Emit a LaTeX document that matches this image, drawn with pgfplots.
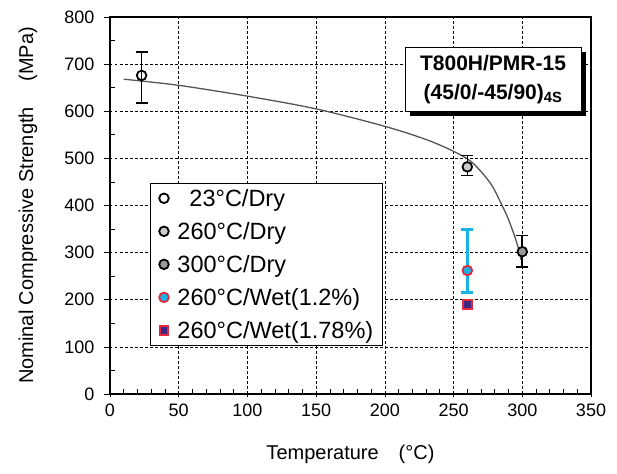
\documentclass[border=0pt]{standalone}
\usepackage{pgfplots}
\pgfplotsset{compat=1.18}
\usepackage{fontspec}
\setmainfont{Liberation Sans}
\usetikzlibrary{shadows}
\definecolor{wetcyan}{RGB}{20,180,230}
\definecolor{wetred}{RGB}{230,40,60}
\definecolor{wetblue}{RGB}{60,40,130}
\definecolor{curvegray}{RGB}{85,85,85}
\begin{document}
\begin{tikzpicture}
\begin{axis}[
  scale only axis,
  width=481pt, height=377pt,
  xmin=0, xmax=350, ymin=0, ymax=800,
  xtick={0,50,...,350}, ytick={0,100,...,800},
  minor x tick num=4, minor y tick num=1,
  xtick pos=bottom, ytick pos=left,
  tick align=inside,
  major tick length=6pt, minor tick length=5pt,
  every tick/.style={black, line width=0.7pt},
  every major y tick/.style={xshift=-6pt},
  every major x tick/.style={yshift=-3pt},
  grid=major,
  major grid style={black, line width=0.6pt, dash pattern=on 2.5pt off 2.5pt},
  axis line style={black, line width=1.5pt},
  tick label style={font=\fontsize{18}{20}\selectfont},
  yticklabel style={xshift=-12pt},
  xticklabel style={yshift=-6pt},
  /pgf/number format/assume math mode=true,
  xlabel={Temperature\quad(°C)},
  ylabel={Nominal Compressive Strength\quad\ (MPa)},
  every axis x label/.style={at={(axis description cs:0.5,-0.159)}, anchor=center, font=\fontsize{20}{22}\selectfont},
  every axis y label/.style={at={(axis description cs:-0.1705,0.5)}, anchor=center, rotate=90, font=\fontsize{20}{22}\selectfont},
  legend cell align=left,
  legend style={at={(axis cs:29.1,447.7)}, anchor=north west, draw=black, line width=1pt,
    font=\fontsize{23.5}{25}\selectfont, row sep=10.5pt, inner xsep=7pt, inner ysep=3.5pt,
    legend image code/.code={\path (0,0) (17pt,0); \draw[#1] plot coordinates {(6pt,0pt)};}},
]
% curve
\addplot[curvegray, line width=1.3pt, smooth, forget plot] coordinates {
(10,668) (50,655) (100,632) (150,605) (200,568) (230,540) (250,515) (262,495)
(270,472) (278,442) (285,402) (290,370) (295,330) (298,300) (299,285)};
% data
\addplot[black, line width=1pt, mark=o, mark size=4.8pt, mark options={fill=white, line width=1.8pt},
  only marks, error bars/.cd, y dir=both, y explicit, error bar style={line width=1.6pt}, error mark options={rotate=90, mark size=6pt, line width=1.6pt}]
  coordinates {(23,676) += (0,50) -= (0,59)};
\addlegendentry{\hspace{12pt}23°C/Dry}
\addplot[black, line width=1pt, mark=*, mark size=4.8pt, mark options={fill=black!20, line width=1.8pt},
  only marks, error bars/.cd, y dir=both, y explicit, error bar style={line width=1.6pt}, error mark options={rotate=90, mark size=6pt, line width=1.6pt}]
  coordinates {(260,482) += (0,24) -= (0,18)};
\addlegendentry{260°C/Dry}
\addplot[black, line width=1pt, mark=*, mark size=4.8pt, mark options={fill=black!40, line width=1.8pt},
  only marks, error bars/.cd, y dir=both, y explicit, error bar style={line width=1.6pt}, error mark options={rotate=90, mark size=6pt, line width=1.6pt}]
  coordinates {(300,302) += (0,34) -= (0,32)};
\addlegendentry{300°C/Dry}
\addplot[wetcyan, mark=*, mark size=4.8pt, mark options={fill=wetcyan, draw=wetred, line width=1.8pt},
  only marks, error bars/.cd, y dir=both, y explicit, error bar style={line width=3pt, wetcyan}, error mark options={rotate=90, mark size=6pt, line width=3pt, wetcyan}]
  coordinates {(260,262) += (0,88) -= (0,47)};
\addlegendentry{260°C/Wet(1.2\%)}
\addplot[wetred, mark=square*, mark size=4.3pt, mark options={fill=wetblue, draw=wetred, line width=1.8pt}, only marks]
  coordinates {(260,190)};
\addlegendentry{260°C/Wet(1.78\%)}
\node[draw=black, fill=white, line width=0.8pt, align=center, font=\bfseries\fontsize{21}{29}\selectfont,
  drop shadow={shadow xshift=5pt, shadow yshift=-5pt, fill=black, opacity=1},
  minimum width=176pt, minimum height=64pt, inner sep=1pt] at (axis cs:278.7,668)
  {T800H/PMR-15\\(45/0/-45/90)\textsubscript{4S}};
\end{axis}
\path (current axis.south west) ++(-110pt,-80pt) coordinate (bbA);
\path (current axis.north east) ++(26pt,17pt) coordinate (bbB);
\pgfresetboundingbox
\path[use as bounding box] (bbA) rectangle (bbB);
\end{tikzpicture}
\end{document}
